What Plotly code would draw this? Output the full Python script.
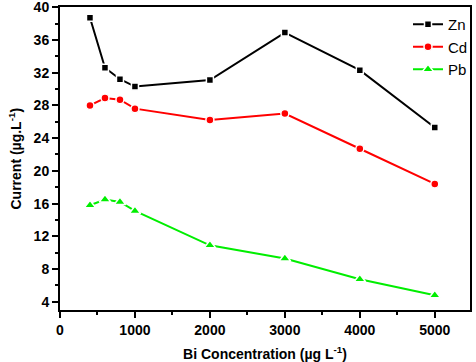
import plotly.graph_objects as go

bi_conc = [400, 600, 800, 1000, 2000, 3000, 4000, 5000]
zn = [38.7, 32.6, 31.2, 30.3, 31.1, 36.9, 32.3, 25.3]
cd = [28.0, 28.9, 28.7, 27.6, 26.2, 27.0, 22.7, 18.4]
pb = [15.8, 16.5, 16.2, 15.1, 10.9, 9.3, 6.75, 4.8]

series = [
    ("Zn", zn, "#000000", "square", 7),
    ("Cd", cd, "#ff0000", "circle", 8),
    ("Pb", pb, "#00ee00", "triangle-up", 10),
]

fig = go.Figure()
for name, vals, col, sym, sz in series:
    fig.add_trace(go.Scatter(
        x=bi_conc, y=vals, name=name, mode="lines+markers",
        line=dict(color=col, width=2),
        marker=dict(symbol=sym, size=sz, color=col, line=dict(color="white", width=1.5)),
    ))

font_family = "Liberation Sans, Arial, sans-serif"
fig.update_layout(
    width=476, height=362,
    margin=dict(l=60, r=6, t=7, b=52, autoexpand=False),
    paper_bgcolor="white", plot_bgcolor="white",
    font=dict(family=font_family, color="black"),
    showlegend=True,
    legend=dict(xref="container", yref="container", x=408 / 476, y=1 - 8 / 362,
                xanchor="left", yanchor="top",
                font=dict(size=15, family=font_family), bgcolor="rgba(0,0,0,0)",
                itemwidth=30, tracegroupgap=0),
    annotations=[dict(
        text="Current (µg.L<sup>-1</sup>)", textangle=-90,
        xref="paper", yref="paper", x=(15 - 60) / 410, y=0.5,
        xanchor="center", yanchor="middle", showarrow=False,
        font=dict(size=14, family=font_family, weight="bold", color="black"),
    )],
)
fig.update_xaxes(
    range=[0, 5470], tickvals=[0, 1000, 2000, 3000, 4000, 5000],
    showgrid=False, zeroline=False, automargin=False,
    showline=True, linewidth=2, linecolor="black", mirror=True,
    ticks="outside", ticklen=6, tickwidth=2, tickcolor="black",
    minor=dict(dtick=500, tick0=0, ticks="outside", ticklen=3, tickwidth=1.5, tickcolor="black"),
    tickfont=dict(size=14, family=font_family, weight="bold"),
    ticklabeloverflow="allow",
    title=dict(text="Bi Concentration (µg L<sup>-1</sup>)", font=dict(size=14, family=font_family, weight="bold"), standoff=24),
)
fig.update_yaxes(
    range=[3, 40.02], tickvals=[4, 8, 12, 16, 20, 24, 28, 32, 36, 40],
    showgrid=False, zeroline=False, automargin=False,
    showline=True, linewidth=2, linecolor="black", mirror=True,
    ticks="outside", ticklen=6, tickwidth=2, tickcolor="black",
    minor=dict(dtick=2, tick0=0, ticks="outside", ticklen=3, tickwidth=1.5, tickcolor="black"),
    tickfont=dict(size=14, family=font_family, weight="bold"),
    ticklabeloverflow="allow",
)
fig.write_html("out.html")
